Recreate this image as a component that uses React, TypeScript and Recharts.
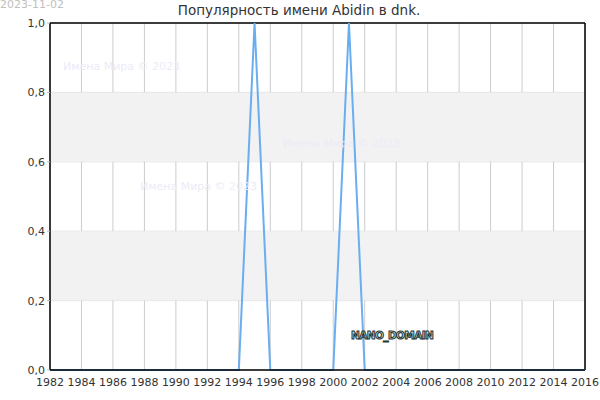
import React from 'react';
import {
  ComposedChart, Line, XAxis, YAxis, CartesianGrid, ReferenceArea, ReferenceLine,
} from 'recharts';

const years: number[] = [
  1982, 1983, 1984, 1985, 1986, 1987, 1988, 1989, 1990, 1991, 1992, 1993, 1994, 1995,
  1996, 1997, 1998, 1999, 2000, 2001, 2002, 2003, 2004, 2005, 2006, 2007, 2008, 2009,
  2010, 2011, 2012, 2013, 2014, 2015, 2016,
];
const values: number[] = [
  0, 0, 0, 0, 0, 0, 0, 0, 0, 0, 0, 0, 0, 1,
  0, 0, 0, 0, 0, 1, 0, 0, 0, 0, 0, 0, 0, 0,
  0, 0, 0, 0, 0, 0, 0,
];
const xTicks: number[] = [1982, 1984, 1986, 1988, 1990, 1992, 1994, 1996, 1998, 2000, 2002, 2004, 2006, 2008, 2010, 2012, 2014, 2016];
const yTicks: number[] = [0, 0.2, 0.4, 0.6, 0.8, 1.0];
const bands: [number, number][] = [[0.2, 0.4], [0.6, 0.8]];
const title = 'Популярность имени Abidin в dnk.';
const dateLabel = '2023-11-02';
const watermark = 'Имена Мира © 2023';
const brand = 'NANO_DOMAIN';

const data = years.map((y, i) => ({ year: y, value: values[i] }));

const FONT = 'DejaVu Sans, sans-serif';

export default function App() {
  return (
    <div style={{ position: 'absolute', left: 0, top: 0, width: 600, height: 400, background: '#fff', fontFamily: FONT }}>
      <ComposedChart
        width={600}
        height={400}
        data={data}
        margin={{ top: 23, right: 15, left: 0, bottom: 0 }}
      >
        {bands.map(([a, b]) => (
          <ReferenceArea key={a} y1={a} y2={b} fill="#f2f2f2" fillOpacity={1} stroke="none" ifOverflow="visible" />
        ))}
        <CartesianGrid horizontal={true} vertical={false} stroke="#dddddd" strokeWidth={1} />
        <CartesianGrid horizontal={false} vertical={true} stroke="#cccccc" strokeWidth={1} />
        <XAxis
          dataKey="year"
          type="number"
          domain={[1982, 2016]}
          ticks={xTicks}
          height={30}
          tick={{ fill: '#333', fontSize: 11, fontFamily: FONT }}
          tickLine={false}
          axisLine={{ stroke: '#000', strokeWidth: 1.5 }}
          interval={0}
          tickMargin={2}
        />
        <YAxis
          type="number"
          domain={[0, 1]}
          ticks={yTicks}
          width={50}
          tick={{ fill: '#333', fontSize: 11, fontFamily: FONT }}
          tickFormatter={(v: number) => v.toFixed(1).replace('.', ',')}
          tickLine={{ stroke: '#bbb' }}
          tickSize={3}
          axisLine={{ stroke: '#000', strokeWidth: 1.5 }}
        />
        <ReferenceLine y={1} stroke="#000" strokeWidth={1.5} ifOverflow="visible" />
        <ReferenceLine x={2016} stroke="#000" strokeWidth={1.5} ifOverflow="visible" />
        <Line
          type="linear"
          dataKey="value"
          stroke="#6aaef0"
          strokeWidth={2}
          dot={false}
          isAnimationActive={false}
        />
      </ComposedChart>
      <svg width={600} height={400} style={{ position: 'absolute', left: 0, top: 0, pointerEvents: 'none' }}>
        <text x={0} y={8} fill="#c0c0c0" fontSize={11} fontFamily={FONT}>{dateLabel}</text>
        <text x={299} y={15} fill="#333" fontSize={13.5} fontFamily={FONT} textAnchor="middle">{title}</text>
        <text x={63} y={70} fill="#ecebf8" fontSize={11} fontFamily={FONT}>{watermark}</text>
        <text x={283} y={147} fill="#ecebf8" fontSize={11} fontFamily={FONT}>{watermark}</text>
        <text x={140} y={190} fill="#ecebf8" fontSize={11} fontFamily={FONT}>{watermark}</text>
        <text x={351} y={339} fill="#c8dcdc" stroke="#1e3535" strokeWidth={1} fontSize={10.5} fontWeight="bold" letterSpacing={-0.6} fontFamily={FONT}>{brand}</text>
      </svg>
    </div>
  );
}
